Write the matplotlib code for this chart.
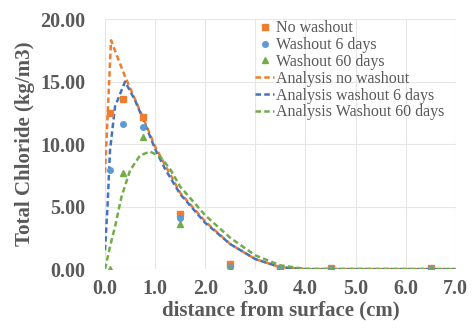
import matplotlib
matplotlib.use('Agg')
import matplotlib.pyplot as plt

# measured points
x_pts = [0.1, 0.35, 0.75, 1.5, 2.5, 3.5, 4.5, 6.5]
no_washout = [12.5, 13.6, 12.2, 4.4, 0.4, 0.1, 0.05, 0.05]
washout_6 = [7.9, 11.6, 11.4, 4.1, 0.2, 0.1, 0.0, 0.0]
washout_60 = [0.0, 7.7, 10.6, 3.6, 0.0, 0.0, 0.0, 0.0]

# analysis curves
xa_no = [0.0, 0.12, 0.4, 0.75, 1.0, 1.5, 2.0, 2.5, 3.0, 3.5, 4.0, 7.0]
ya_no = [7.7, 18.3, 15.4, 12.2, 9.8, 6.1, 3.8, 2.0, 0.8, 0.15, 0.0, 0.0]
xa_6 = [0.0, 0.05, 0.1, 0.2, 0.4, 0.6, 0.8, 1.0, 1.2, 1.5, 2.0, 2.5, 3.0, 3.5, 4.0, 7.0]
ya_6 = [1.5, 5.0, 9.5, 13.0, 15.0, 13.5, 11.6, 9.6, 8.0, 6.0, 3.7, 2.0, 0.8, 0.15, 0.0, 0.0]
xa_60 = [0.0, 0.1, 0.2, 0.33, 0.5, 0.7, 0.9, 1.1, 1.3, 1.5, 2.0, 2.5, 3.0, 3.5, 4.0, 7.0]
ya_60 = [0.0, 1.8, 3.4, 5.8, 7.9, 9.1, 9.4, 9.0, 8.0, 6.6, 4.3, 2.5, 1.1, 0.3, 0.02, 0.0]

xticks = [0, 1, 2, 3, 4, 5, 6, 7]
yticks = [0, 5, 10, 15, 20]

gray = '#595959'
orange = '#ED7D31'
blue = '#5B9BD5'
dblue = '#4472C4'
green = '#70AD47'

plt.rcParams['font.family'] = ['Liberation Serif', 'DejaVu Serif']

fig = plt.figure(figsize=(4.76, 3.29), dpi=100)
ax = fig.add_axes([0.2206, 0.182, 0.737, 0.760])

ax.plot(x_pts, no_washout, 's', color=orange, ms=4, label='No washout', zorder=4)
ax.plot(x_pts, washout_6, 'o', color=blue, ms=4, label='Washout 6 days', zorder=4)
ax.plot(x_pts, washout_60, '^', color=green, ms=4, label='Washout 60 days', zorder=4)
ax.plot(xa_no, ya_no, '--', color=orange, lw=1.8, dashes=(2.2, 1.3), label='Analysis no washout')
ax.plot(xa_6, ya_6, '--', color=dblue, lw=1.8, dashes=(2.2, 1.3), label='Analysis washout 6 days')
ax.plot(xa_60, ya_60, '--', color=green, lw=1.8, dashes=(2.2, 1.3), label='Analysis Washout 60 days')

ax.set_xlim(0, 7)
ax.set_ylim(0, 20)
ax.set_xticks(xticks)
ax.set_xticklabels(['%.1f' % v for v in xticks])
ax.set_yticks(yticks)
ax.set_yticklabels(['%.2f' % v for v in yticks])
ax.grid(True, color='#E6E6E6', lw=0.8)
ax.set_axisbelow(True)
for s in ax.spines.values():
    s.set_visible(False)
ax.tick_params(axis='y', length=0, labelsize=14.5, colors=gray, pad=14)
ax.tick_params(axis='x', length=0, labelsize=14.5, colors=gray, pad=7)
for lab in ax.get_xticklabels() + ax.get_yticklabels():
    lab.set_fontweight('bold')

ax.set_xlabel('distance from surface (cm)', fontsize=15, fontweight='bold',
              color=gray, labelpad=1)
ax.set_ylabel('Total Chloride (kg/m3)', fontsize=15, fontweight='bold',
              color=gray, labelpad=4)

leg = ax.legend(loc='upper left', bbox_to_anchor=(0.41, 1.02), frameon=False,
                fontsize=11.5, handlelength=1.2, handletextpad=0.1,
                labelspacing=0.05, borderaxespad=0)
for t in leg.get_texts():
    t.set_color(gray)

fig.savefig('out.png', dpi=100)
